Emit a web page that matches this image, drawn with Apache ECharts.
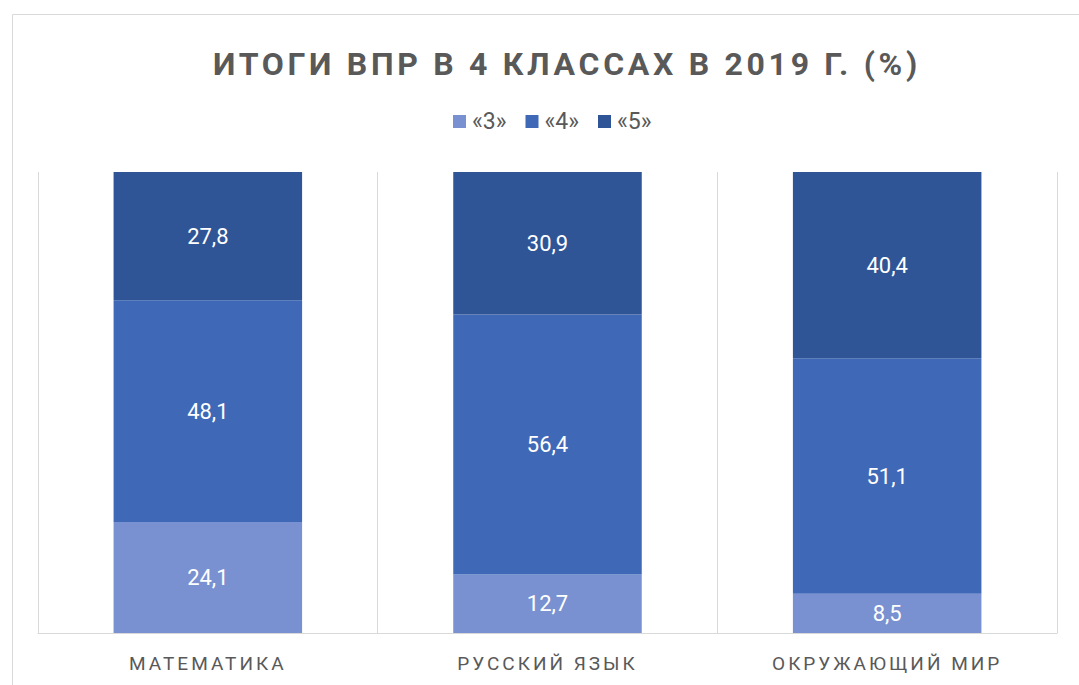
<!DOCTYPE html>
<html>
<head>
<meta charset="utf-8">
<script src="https://cdn.jsdelivr.net/npm/echarts@6/dist/echarts.min.js"></script>
<style>
html,body{margin:0;padding:0;background:#fff;}
#chart{width:1079px;height:685px;}
</style>
</head>
<body>
<div id="chart"></div>
<script>
const titleText = 'ИТОГИ ВПР В 4 КЛАССАХ В 2019 Г. (%)';
const categories = ['МАТЕМАТИКА', 'РУССКИЙ ЯЗЫК', 'ОКРУЖАЮЩИЙ МИР'];
const seriesNames = ['«3»', '«4»', '«5»'];
const grade3 = [24.1, 12.7, 8.5];
const grade4 = [48.1, 56.4, 51.1];
const grade5 = [27.8, 30.9, 40.4];
const colors = ['#7991D0', '#3F69B7', '#2F5597'];

const FONT = 'Roboto, "Noto Sans", sans-serif';
const chart = echarts.init(document.getElementById('chart'), null, {renderer: 'svg'});

function mk(name, data, color) {
  return {
    name: name, type: 'bar', stack: 'total', data: data,
    barCategoryGap: '44.5%',
    itemStyle: {color: color},
    label: {
      show: true, position: 'inside', color: '#ffffff',
      fontFamily: FONT, fontSize: 22,
      formatter: p => String(p.value).replace('.', ',')
    }
  };
}

chart.setOption({
  animation: false,
  textStyle: {fontFamily: FONT},
  title: {
    text: titleText, left: 213, top: 48, padding: 0,
    textStyle: {fontFamily: FONT, fontWeight: 'bold', fontSize: 32, color: '#595959'}
  },
  legend: {
    data: seriesNames, top: 110, left: 453, padding: 0,
    itemWidth: 13, itemHeight: 13, itemGap: 19, icon: 'rect',
    textStyle: {fontFamily: FONT, fontSize: 23, color: '#595959', padding: [0,0,0,1]}
  },
  graphic: [{
    type: 'rect', left: 10, top: 12, silent: true, z: -10,
    shape: {width: 1200, height: 800},
    style: {fill: 'none', stroke: '#d9d9d9', lineWidth: 1}
  }],
  grid: {left: 38, right: 22, top: 172, bottom: 52, containLabel: false},
  xAxis: {
    type: 'category', data: categories,
    axisLine: {show: true, lineStyle: {color: '#d9d9d9', width: 1}},
    axisTick: {show: false},
    splitLine: {show: true, lineStyle: {color: '#d9d9d9', width: 1}},
    axisLabel: {fontFamily: FONT, fontSize: 19, color: '#595959', margin: 21}
  },
  yAxis: {
    type: 'value', min: 0, max: 100, interval: 20, show: false,
    splitLine: {show: false}
  },
  series: [
    mk(seriesNames[0], grade3, colors[0]),
    mk(seriesNames[1], grade4, colors[1]),
    mk(seriesNames[2], grade5, colors[2])
  ]
});

function spaceText() {
  const texts = document.querySelectorAll('#chart text');
  texts.forEach(t => {
    const c = t.textContent;
    if (c === titleText) t.setAttribute('letter-spacing', '3.7px');
    else if (categories.indexOf(c) >= 0) t.setAttribute('letter-spacing', '3px');
  });
}
chart.on('finished', spaceText);
setTimeout(spaceText, 50);
setTimeout(spaceText, 300);
</script>
</body>
</html>
